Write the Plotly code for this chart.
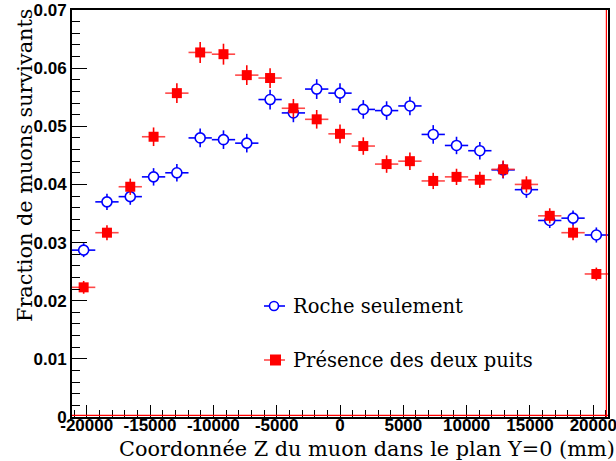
import plotly.graph_objects as go

# Bin centres (mm)
z_centres = [-20240, -18400, -16560, -14720, -12880, -11040, -9200, -7360, -5520, -3680, -1840, 0,
             1840, 3680, 5520, 7360, 9200, 11040, 12880, 14720, 16560, 18400, 20240]
z_halfwidth = [920] * 23

roche = [0.0287, 0.0370, 0.0379, 0.0413, 0.0420, 0.0480, 0.0477, 0.0471, 0.0546, 0.0523, 0.0564, 0.0557,
         0.0529, 0.0527, 0.0535, 0.0486, 0.0467, 0.0458, 0.0425, 0.0391, 0.0338, 0.0342, 0.0313]
roche_err = [0.0012, 0.0014, 0.0014, 0.0015, 0.0015, 0.0016, 0.0016, 0.0016, 0.0017, 0.0016, 0.0017, 0.0017,
             0.0016, 0.0016, 0.0016, 0.0016, 0.0015, 0.0015, 0.0015, 0.0014, 0.0013, 0.0013, 0.0013]

puits = [0.0223, 0.0317, 0.0396, 0.0482, 0.0557, 0.0627, 0.0624, 0.0588, 0.0583, 0.0531, 0.0512, 0.0487,
         0.0466, 0.0435, 0.0440, 0.0406, 0.0413, 0.0408, 0.0426, 0.0400, 0.0346, 0.0317, 0.0246]
puits_err = [0.0011, 0.0013, 0.0014, 0.0016, 0.0017, 0.0018, 0.0018, 0.0017, 0.0017, 0.0016, 0.0016, 0.0016,
             0.0015, 0.0015, 0.0015, 0.0014, 0.0014, 0.0014, 0.0015, 0.0014, 0.0013, 0.0013, 0.0011]

x_ticks = [-20000, -15000, -10000, -5000, 0, 5000, 10000, 15000, 20000]
x_ticktext = ["-20000", "-15000", "-10000", "-5000", "0", "5000", "10000", "15000", "20000"]
y_ticks = [0, 0.01, 0.02, 0.03, 0.04, 0.05, 0.06, 0.07]
y_ticktext = ["0", "0.01", "0.02", "0.03", "0.04", "0.05", "0.06", "0.07"]

legend_labels = ["Roche seulement", "Présence des deux puits"]

fig = go.Figure()
fig.add_trace(go.Scatter(
    x=z_centres, y=roche, mode="markers", name=legend_labels[0],
    marker=dict(symbol="circle", size=10, color="white", line=dict(color="blue", width=1.6)),
    error_x=dict(type="data", array=z_halfwidth, width=0, thickness=1.6, color="blue"),
    error_y=dict(type="data", array=roche_err, width=0, thickness=1.6, color="blue"),
    showlegend=False))
fig.add_trace(go.Scatter(
    x=z_centres, y=puits, mode="markers", name=legend_labels[1],
    marker=dict(symbol="square", size=10, color="red", line=dict(width=0)),
    error_x=dict(type="data", array=z_halfwidth, width=0, thickness=1.6, color="rgba(255,40,40,0.85)"),
    error_y=dict(type="data", array=puits_err, width=0, thickness=1.6, color="red"),
    showlegend=False))

W, H = 616, 461
L, R, T, B = 72, 8, 10, 44
pw, ph = W - L - R, H - T - B


def px(xp):
    return (xp - L) / pw


def py(yp):
    return (H - B - yp) / ph


shapes = [
    # red outline along bottom and right edge of frame
    dict(type="line", xref="paper", yref="paper", x0=0, x1=1, y0=0.004, y1=0.004,
         line=dict(color="red", width=1.2), layer="above"),
    dict(type="line", xref="paper", yref="paper", x0=0.997, x1=0.997, y0=0, y1=1,
         line=dict(color="red", width=1.2), layer="above"),
    # legend symbols
    dict(type="line", xref="paper", yref="paper", x0=px(264), x1=px(285), y0=py(306), y1=py(306),
         line=dict(color="blue", width=1.6)),
    dict(type="circle", xref="paper", yref="paper", x0=px(269.5), x1=px(278.5), y0=py(301.5), y1=py(310.5),
         line=dict(color="blue", width=1.6), fillcolor="white", layer="above"),
    dict(type="line", xref="paper", yref="paper", x0=px(264), x1=px(285), y0=py(360), y1=py(360),
         line=dict(color="rgba(255,40,40,0.85)", width=1.6)),
    dict(type="rect", xref="paper", yref="paper", x0=px(270), x1=px(281), y0=py(354.5), y1=py(365.5),
         line=dict(width=0), fillcolor="red", layer="above"),
]

legfont = dict(family="DejaVu Serif", size=19.5, color="black")
titlefont = dict(family="DejaVu Serif", size=20.8, color="black")
annotations = [
    dict(text=legend_labels[0], xref="paper", yref="paper", x=px(291), y=py(306),
         xanchor="left", yanchor="middle", showarrow=False, font=legfont),
    dict(text=legend_labels[1], xref="paper", yref="paper", x=px(291), y=py(360),
         xanchor="left", yanchor="middle", showarrow=False, font=legfont),
    dict(text="Coordonnée Z du muon dans le plan Y=0 (mm)", xref="paper", yref="paper",
         x=px(367), y=py(449), xanchor="center", yanchor="middle", showarrow=False, font=titlefont,
         borderpad=0),
    dict(text="Fraction de muons survivants", xref="paper", yref="paper",
         x=px(25), y=py(166), xanchor="center", yanchor="middle", textangle=-90, showarrow=False,
         font=titlefont),
]

tickfont = dict(family="Liberation Sans", size=17, color="black", weight="bold")

fig.update_layout(
    width=W, height=H,
    margin=dict(l=L, r=R, t=T, b=B, autoexpand=False),
    paper_bgcolor="white", plot_bgcolor="white",
    shapes=shapes, annotations=annotations,
    xaxis=dict(range=[-21160, 21160], tickvals=x_ticks, ticktext=x_ticktext, automargin=False,
               ticklabeloverflow="allow", ticklabelstandoff=-8,
               ticks="inside", ticklen=12, tickwidth=1.2, tickcolor="black",
               minor=dict(dtick=1000, tick0=0, ticks="inside", ticklen=7, tickwidth=1, tickcolor="black"),
               showgrid=False, zeroline=False, showline=True, linecolor="black", linewidth=2,
               mirror=True, tickfont=tickfont),
    yaxis=dict(range=[0, 0.07], tickvals=y_ticks, ticktext=y_ticktext, automargin=False,
               ticklabeloverflow="allow",
               ticks="inside", ticklen=15, tickwidth=1.2, tickcolor="black",
               minor=dict(dtick=0.002, tick0=0, ticks="inside", ticklen=8, tickwidth=1, tickcolor="black"),
               showgrid=False, zeroline=False, showline=True, linecolor="black", linewidth=2,
               mirror=True, tickfont=tickfont),
)

fig.write_html("out.html", config={"displayModeBar": False},
               post_script="document.body.style.margin='0px';document.body.style.padding='0px';")
